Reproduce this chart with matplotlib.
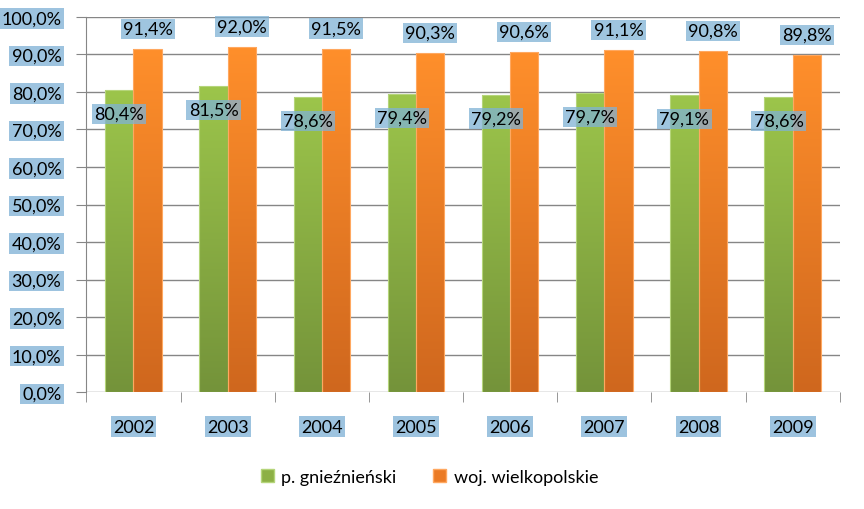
import numpy as np
import matplotlib.pyplot as plt
from matplotlib.colors import LinearSegmentedColormap
from matplotlib.patches import Patch

plt.rcParams['font.family'] = ['Lato', 'DejaVu Sans']

years = ['2002', '2003', '2004', '2005', '2006', '2007', '2008', '2009']
powiat = [80.4, 81.5, 78.6, 79.4, 79.2, 79.7, 79.1, 78.6]
woj = [91.4, 92.0, 91.5, 90.3, 90.6, 91.1, 90.8, 89.8]
series_names = ['p. gnieźnieński', 'woj. wielkopolskie']

FS = 13
label_bg = dict(boxstyle='square,pad=0.12', facecolor='#7FB2D5', alpha=0.75, edgecolor='none')


def fmt(v):
    return f'{v:.1f}%'.replace('.', ',')


green_cmap = LinearSegmentedColormap.from_list('g', ['#74933A', '#9CC54B'])
orange_cmap = LinearSegmentedColormap.from_list('o', ['#CF671E', '#FF8F2B'])

fig = plt.figure(figsize=(8.64, 5.10), dpi=100)
ax = fig.add_axes([0.1, 0.229, 0.872, 0.736])

x = np.arange(len(years))
w = 0.3
grad = np.linspace(0, 1, 256).reshape(-1, 1)

for xs, vals, cmap, edge in [(x - w / 2, powiat, green_cmap, '#B5D57A'),
                             (x + w / 2, woj, orange_cmap, '#FFA860')]:
    bars = ax.bar(xs, vals, width=w, color='none', edgecolor=edge, linewidth=0.8, zorder=3)
    for b in bars:
        im = ax.imshow(grad, cmap=cmap, aspect='auto', origin='lower',
                       extent=[b.get_x(), b.get_x() + b.get_width(), 0, b.get_height()],
                       zorder=2)
        im.set_clip_path(b)

for i in range(len(years)):
    ax.text(x[i] - w / 2, powiat[i] - 6.3, fmt(powiat[i]), ha='center', va='center',
            fontsize=FS, bbox=label_bg, zorder=5)
    ax.text(x[i] + w / 2, woj[i] + 5.4, fmt(woj[i]), ha='center', va='center',
            fontsize=FS, bbox=label_bg, zorder=5)

ax.set_xlim(-0.5, len(years) - 0.5)
ax.set_ylim(0, 100)
ax.set_yticks(np.arange(0, 101, 10))
ax.set_yticklabels([fmt(v) for v in range(0, 101, 10)], fontsize=FS)
ax.set_xticks(x)
ax.set_xticklabels(years, fontsize=FS)
ax.set_xticks(np.arange(-0.5, len(years), 1), minor=True)

for lbl in ax.get_yticklabels() + ax.get_xticklabels():
    lbl.set_bbox(dict(boxstyle='square,pad=0.12', facecolor='#9DC3DF', edgecolor='none'))

ax.tick_params(axis='x', which='major', length=0, pad=19)
ax.tick_params(axis='x', which='minor', length=7, color='#868686')
ax.tick_params(axis='y', length=7, color='#868686', pad=11)

ax.grid(axis='y', color='#868686', linewidth=1, zorder=0)
ax.set_axisbelow(True)
for s in ['top', 'right', 'bottom']:
    ax.spines[s].set_visible(False)
ax.spines['left'].set_color('#868686')

handles = [Patch(facecolor='#8DB045', edgecolor='#B5D57A'),
           Patch(facecolor='#EB7B25', edgecolor='#FFA860')]
fig.legend(handles, series_names, loc='center', bbox_to_anchor=(0.497, 0.063), ncol=2,
           frameon=False, fontsize=FS, handlelength=0.75, handleheight=0.75,
           handletextpad=0.4, columnspacing=2.0)

fig.savefig('out.png', dpi=100)
